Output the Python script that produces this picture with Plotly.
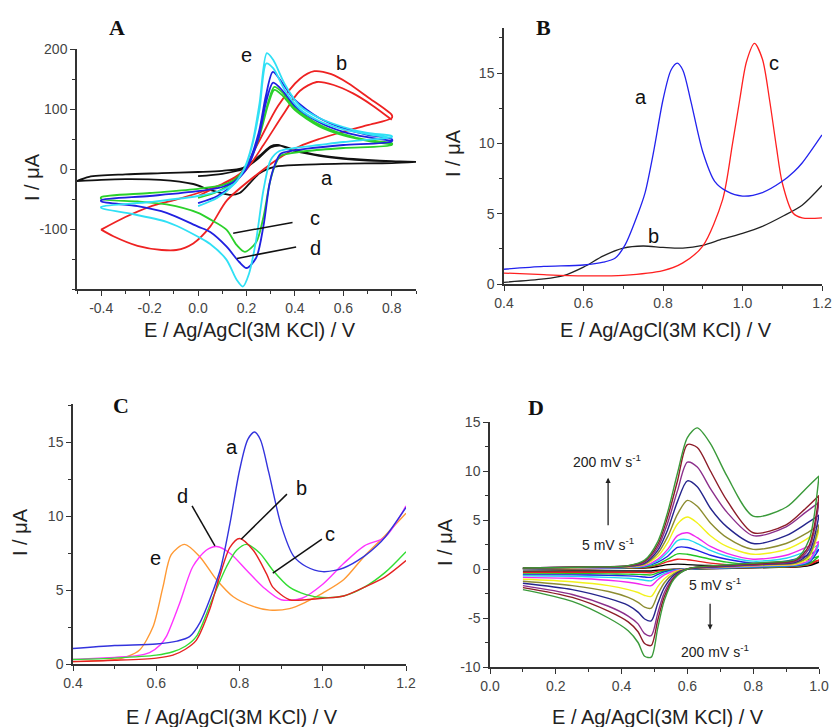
import plotly.graph_objects as go

# ---------------- Panel A: CVs (E / V, I / uA) ----------------
A_a_E = [0.0, 0.1, 0.186, 0.25, 0.3, 0.34, 0.4, 0.5, 0.6, 0.7, 0.8, 0.9,
         0.9, 0.8, 0.6, 0.42, 0.32, 0.254, 0.213, 0.172, 0.13, 0.05, -0.02, -0.156, -0.3, -0.4, -0.5,
         -0.5, -0.45, -0.3, -0.15, 0.0, 0.1, 0.186, 0.254, 0.3, 0.33, 0.4, 0.5, 0.6, 0.7, 0.8, 0.9]
A_a_I = [-12, -8, 0, 18, 36, 39, 32, 23, 18, 15, 13, 12,
         12, 10, 9, 7, 4, -7, -24, -40, -43, -35, -25, -18, -17, -18, -20,
         -20, -13, -9, -7, -5, -3, 2, 22, 38, 40, 30, 22, 17, 14, 13, 12]

A_b_E = [0.0, 0.1, 0.18, 0.25, 0.33, 0.42, 0.48, 0.55, 0.62, 0.7, 0.8,
         0.8, 0.7, 0.58, 0.5, 0.42, 0.35, 0.25, 0.12, 0.05, -0.02, -0.09, -0.15, -0.25, -0.35, -0.4,
         -0.4, -0.3, -0.2, -0.1, 0.0, 0.1, 0.19, 0.27, 0.35, 0.42, 0.49, 0.56, 0.64, 0.72, 0.8]
A_b_I = [-45, -25, -5, 45, 105, 150, 163, 158, 143, 120, 90,
         85, 73, 60, 50, 38, 22, -7, -52, -96, -124, -135, -135, -128, -112, -101,
         -101, -80, -63, -52, -40, -25, -5, 40, 90, 130, 145, 140, 126, 106, 82]

A_c_E = [0.0, 0.08, 0.15, 0.2, 0.25, 0.29, 0.315, 0.35, 0.4, 0.5, 0.6, 0.7, 0.8,
         0.8, 0.6, 0.45, 0.38, 0.34, 0.315, 0.295, 0.27, 0.24, 0.193, 0.16, 0.117, 0.05, 0.0, -0.13, -0.25, -0.4,
         -0.4, -0.2, 0.0, 0.1, 0.15, 0.2, 0.25, 0.29, 0.315, 0.35, 0.4, 0.5, 0.6, 0.7, 0.8]
A_c_I = [-48, -38, -20, 3, 52, 112, 137, 127, 102, 74, 58, 48, 43,
         40, 35, 30, 26, 22, 3, -25, -80, -122, -138, -127, -101, -84, -73, -59, -54, -50,
         -47, -40, -33, -27, -18, 4, 50, 108, 132, 122, 98, 71, 56, 47, 41]

A_d_E = [0.0, 0.08, 0.15, 0.2, 0.25, 0.28, 0.309, 0.35, 0.4, 0.5, 0.6, 0.7, 0.8,
         0.8, 0.6, 0.45, 0.38, 0.34, 0.315, 0.295, 0.27, 0.24, 0.2, 0.17, 0.117, 0.05, 0.0, -0.13, -0.25, -0.4,
         -0.4, -0.2, 0.0, 0.1, 0.15, 0.2, 0.25, 0.28, 0.31, 0.35, 0.4, 0.5, 0.6, 0.7, 0.8]
A_d_I = [-57, -45, -24, 2, 60, 122, 162, 142, 115, 85, 68, 57, 50,
         46, 40, 34, 30, 25, 5, -25, -95, -148, -165, -155, -129, -105, -96, -73, -62, -54,
         -52, -45, -37, -30, -21, 0, 52, 110, 144, 130, 105, 78, 62, 53, 47]

A_e_E = [0.0, 0.08, 0.15, 0.18, 0.2, 0.227, 0.254, 0.284, 0.31, 0.36, 0.42, 0.5, 0.6, 0.7, 0.8,
         0.8, 0.7, 0.6, 0.5, 0.4, 0.336, 0.3, 0.27, 0.24, 0.21, 0.185, 0.16, 0.117, 0.05, 0.0, -0.087, -0.13, -0.27, -0.4,
         -0.4, -0.2, 0.0, 0.1, 0.15, 0.18, 0.2, 0.227, 0.254, 0.282, 0.31, 0.36, 0.42, 0.5, 0.6, 0.7, 0.8]
A_e_I = [-62, -48, -25, -7, 10, 48, 110, 193, 182, 140, 105, 85, 70, 60, 55,
         53, 49, 45, 40, 35, 30, 15, -35, -118, -175, -196, -185, -151, -125, -113, -95, -88, -75, -65,
         -63, -55, -45, -35, -24, -8, 8, 45, 100, 176, 168, 130, 100, 80, 66, 58, 52]

A_xticks = [-0.4, -0.2, 0.0, 0.2, 0.4, 0.6, 0.8]
A_xlabels = ["-0.4", "-0.2", "0.0", "0.2", "0.4", "0.6", "0.8"]
A_yticks = [-100, 0, 100, 200]
A_ylabels = ["-100", "0", "100", "200"]

# ---------------- Panel B: DPV ----------------
B_a_E = [0.4, 0.5, 0.6, 0.65, 0.68, 0.705, 0.737, 0.755, 0.777, 0.8, 0.82, 0.836, 0.85, 0.87,
         0.9, 0.93, 0.96, 1.0, 1.05, 1.1, 1.13, 1.15, 1.2]
B_a_I = [1.05, 1.25, 1.35, 1.55, 1.85, 2.8, 5.0, 6.5, 9.5, 13.1, 15.2, 15.7, 15.2, 13.0,
         9.4, 7.3, 6.6, 6.25, 6.5, 7.3, 8.0, 8.6, 10.6]
B_b_E = [0.4, 0.5, 0.55, 0.6, 0.65, 0.7, 0.75, 0.8, 0.85, 0.9, 0.95, 1.0, 1.05, 1.1, 1.15, 1.2]
B_b_I = [0.12, 0.36, 0.6, 1.2, 2.0, 2.55, 2.7, 2.6, 2.55, 2.75, 3.2, 3.6, 4.1, 4.8, 5.6, 7.0]
B_c_E = [0.4, 0.5, 0.6, 0.7, 0.8, 0.85, 0.9, 0.95, 0.975, 0.993, 1.01, 1.03, 1.05, 1.068,
         1.085, 1.1, 1.127, 1.15, 1.2]
B_c_I = [0.78, 0.66, 0.58, 0.62, 0.95, 1.5, 2.7, 6.0, 10.0, 13.1, 15.8, 17.1, 16.0, 13.1,
         9.8, 7.2, 5.05, 4.7, 4.7]

# ---------------- Panel C: DPV ----------------
C_a_E = B_a_E
C_a_I = B_a_I
C_b_E = [0.4, 0.5, 0.6, 0.64, 0.67, 0.696, 0.728, 0.752, 0.777, 0.8, 0.833, 0.865, 0.88,
         0.92, 0.96, 1.0, 1.05, 1.1, 1.15, 1.2]
C_b_I = [0.16, 0.25, 0.4, 0.6, 1.0, 1.6, 3.65, 5.9, 7.9, 8.5, 7.7, 6.1, 5.2,
         4.35, 4.35, 4.45, 4.6, 5.2, 5.9, 7.0]
C_c_E = [0.4, 0.5, 0.6, 0.64, 0.67, 0.696, 0.737, 0.769, 0.793, 0.817, 0.849, 0.88, 0.92,
         0.96, 1.0, 1.05, 1.1, 1.15, 1.2]
C_c_I = [0.3, 0.4, 0.6, 0.83, 1.2, 1.85, 4.55, 6.6, 7.7, 8.1, 7.5, 6.35, 5.2,
         4.7, 4.5, 4.6, 5.2, 6.2, 7.6]
C_d_E = [0.4, 0.5, 0.55, 0.584, 0.61, 0.624, 0.656, 0.688, 0.72, 0.745, 0.777, 0.817, 0.857,
         0.9, 0.95, 1.0, 1.05, 1.1, 1.15, 1.2]
C_d_I = [0.3, 0.45, 0.55, 0.77, 1.3, 1.85, 4.1, 6.6, 7.7, 7.95, 7.5, 6.35, 5.2,
         4.35, 4.45, 5.4, 6.8, 8.0, 8.6, 10.7]
C_e_E = [0.4, 0.5, 0.53, 0.56, 0.592, 0.616, 0.636, 0.668, 0.705, 0.745, 0.785, 0.833, 0.873,
         0.92, 0.96, 1.0, 1.05, 1.1, 1.15, 1.2]
C_e_I = [0.16, 0.3, 0.5, 0.95, 2.5, 5.2, 7.4, 8.1, 7.25, 5.7, 4.55, 3.9, 3.65,
         3.75, 4.2, 4.8, 5.7, 7.3, 8.7, 10.2]

# ---------------- Panel D: CVs at scan rates 5 ... 200 mV/s ----------------
D_fwd_E = [0.1, 0.3, 0.42, 0.47, 0.51, 0.54, 0.57, 0.6, 0.63, 0.67, 0.72, 0.8, 0.9, 0.96, 1.0]
D_rev_E = [1.0, 0.97, 0.93, 0.85, 0.7, 0.6, 0.56, 0.53, 0.51, 0.49, 0.47, 0.45, 0.42, 0.36, 0.25, 0.1]

D01_fwd = [0.0, 0.03, 0.06, 0.1, 0.25, 0.45, 0.5, 0.45, 0.4, 0.35, 0.3, 0.25, 0.3, 0.45, 0.7]
D01_rev = [0.7, 0.35, 0.2, 0.15, 0.05, 0.0, -0.03, -0.08, -0.13, -0.2, -0.2, -0.2, -0.2, -0.2, -0.2, -0.22]
D02_fwd = [0.0, 0.05, 0.1, 0.15, 0.4, 0.75, 1.0, 0.95, 0.8, 0.6, 0.45, 0.35, 0.45, 0.6, 0.9]
D02_rev = [0.9, 0.45, 0.25, 0.18, 0.06, 0.0, -0.05, -0.12, -0.22, -0.38, -0.36, -0.34, -0.33, -0.33, -0.33, -0.35]
D03_fwd = [0.02, 0.08, 0.12, 0.2, 0.5, 1.0, 1.55, 1.5, 1.3, 1.0, 0.7, 0.45, 0.6, 0.9, 1.3]
D03_rev = [1.3, 0.55, 0.3, 0.2, 0.08, 0.0, -0.07, -0.2, -0.38, -0.6, -0.58, -0.55, -0.52, -0.5, -0.48, -0.5]
D04_fwd = [0.03, 0.1, 0.15, 0.25, 0.7, 1.3, 2.2, 2.2, 1.9, 1.4, 1.0, 0.6, 0.8, 1.3, 2.0]
D04_rev = [2.0, 0.7, 0.35, 0.25, 0.1, 0.0, -0.1, -0.3, -0.55, -0.85, -0.82, -0.75, -0.7, -0.65, -0.6, -0.6]
D05_fwd = [0.05, 0.1, 0.18, 0.3, 0.85, 1.7, 2.9, 3.0, 2.6, 1.9, 1.3, 0.8, 1.1, 1.8, 2.5]
D05_rev = [2.5, 0.8, 0.4, 0.3, 0.12, 0.0, -0.15, -0.45, -0.8, -1.2, -1.15, -1.05, -0.95, -0.85, -0.75, -0.7]
D06_fwd = [0.05, 0.12, 0.2, 0.35, 1.0, 2.0, 3.4, 3.7, 3.2, 2.3, 1.6, 1.0, 1.4, 2.2, 2.8]
D06_rev = [2.8, 0.9, 0.45, 0.35, 0.15, 0.0, -0.2, -0.6, -1.1, -1.7, -1.65, -1.5, -1.35, -1.15, -0.95, -0.85]
D07_fwd = [0.05, 0.15, 0.22, 0.45, 1.3, 2.7, 4.6, 5.3, 4.7, 3.4, 2.3, 1.5, 2.0, 3.0, 4.0]
D07_rev = [4.0, 1.2, 0.5, 0.4, 0.2, 0.0, -0.3, -1.0, -1.8, -2.8, -2.7, -2.4, -2.1, -1.7, -1.3, -1.05]
D08_fwd = [0.1, 0.18, 0.25, 0.5, 1.6, 3.3, 5.6, 7.0, 6.4, 4.7, 3.2, 2.0, 2.6, 3.6, 4.5]
D08_rev = [4.5, 1.4, 0.6, 0.45, 0.2, 0.0, -0.45, -1.4, -2.6, -4.0, -3.9, -3.4, -2.9, -2.3, -1.7, -1.25]
D09_fwd = [0.1, 0.2, 0.28, 0.6, 1.9, 4.0, 6.9, 9.0, 8.4, 6.2, 4.3, 2.6, 3.4, 4.6, 5.5]
D09_rev = [5.5, 1.7, 0.7, 0.5, 0.25, 0.0, -0.6, -1.9, -3.5, -5.3, -5.1, -4.4, -3.7, -3.0, -2.1, -1.45]
D10_fwd = [0.1, 0.2, 0.3, 0.7, 2.2, 4.7, 8.0, 10.9, 10.4, 8.2, 5.8, 3.4, 4.3, 5.8, 6.8]
D10_rev = [6.8, 2.1, 0.8, 0.55, 0.3, 0.0, -0.8, -2.4, -4.5, -6.8, -6.6, -5.6, -4.8, -3.8, -2.6, -1.7]
D11_fwd = [0.1, 0.2, 0.33, 0.8, 2.5, 5.3, 9.0, 12.7, 12.4, 10.0, 7.0, 3.7, 4.5, 6.2, 7.5]
D11_rev = [7.5, 2.4, 0.9, 0.6, 0.35, 0.0, -0.9, -2.8, -5.2, -7.8, -7.6, -6.4, -5.4, -4.3, -2.9, -1.9]
D12_fwd = [0.1, 0.2, 0.35, 0.9, 2.8, 5.8, 9.8, 13.4, 14.4, 12.8, 9.5, 5.4, 6.3, 8.2, 9.5]
D12_rev = [9.5, 3.0, 1.0, 0.7, 0.4, 0.0, -1.0, -3.2, -6.0, -9.0, -8.9, -7.5, -6.3, -5.0, -3.3, -2.1]

D_yticks = [-10, -5, 0, 5, 10, 15]
D_ylabels = ["-10", "-5", "0", "5", "10", "15"]

D_colors = ["#000000", "#E82020", "#22C522", "#2020E6", "#22D8F0", "#F028F0",
            "#F2F21C", "#8C8C30", "#25258C", "#8B2F8B", "#8C1C28", "#3A9A3A"]

# ---------------- figure ----------------
fig = go.Figure()

def add(x, y, color, xa, ya, w=1.6, name=None):
    fig.add_trace(go.Scatter(x=x, y=y, mode="lines", xaxis=xa, yaxis=ya, name=name,
                             line=dict(color=color, width=w, shape="spline", smoothing=0.8),
                             showlegend=False, hoverinfo="skip"))

# A
add(A_a_E, A_a_I, "#111111", "x", "y", 1.8, "a")
add(A_b_E, A_b_I, "#EE2222", "x", "y", 1.8, "b")
add(A_c_E, A_c_I, "#2BD12B", "x", "y", 1.8, "c")
add(A_d_E, A_d_I, "#2020E0", "x", "y", 1.8, "d")
add(A_e_E, A_e_I, "#30E0F5", "x", "y", 1.8, "e")
# B
add(B_b_E, B_b_I, "#222222", "x2", "y2", 1.3, "b")
add(B_c_E, B_c_I, "#FF2020", "x2", "y2", 1.3, "c")
add(B_a_E, B_a_I, "#2222EE", "x2", "y2", 1.3, "a")
# C
add(C_e_E, C_e_I, "#FF9933", "x3", "y3", 1.4, "e")
add(C_d_E, C_d_I, "#FF33FF", "x3", "y3", 1.4, "d")
add(C_c_E, C_c_I, "#33DD33", "x3", "y3", 1.4, "c")
add(C_b_E, C_b_I, "#E52222", "x3", "y3", 1.4, "b")
add(C_a_E, C_a_I, "#3333DD", "x3", "y3", 1.4, "a")
# D
D_fwd = [D01_fwd, D02_fwd, D03_fwd, D04_fwd, D05_fwd, D06_fwd, D07_fwd, D08_fwd, D09_fwd, D10_fwd, D11_fwd, D12_fwd]
D_rev = [D01_rev, D02_rev, D03_rev, D04_rev, D05_rev, D06_rev, D07_rev, D08_rev, D09_rev, D10_rev, D11_rev, D12_rev]
for f, r, c in zip(D_fwd, D_rev, D_colors):
    add(D_fwd_E + D_rev_E, f + r, c, "x4", "y4", 1.4)

W, H = 832, 727
def px(a, b):
    return [a / W, b / W]
def py(top, bottom):
    return [1 - bottom / H, 1 - top / H]

tickfont = dict(family="Arial", size=14, color="#444444")
def xax(dom, rng, dtick, minor):
    return dict(domain=dom, range=rng, dtick=dtick, tick0=0, showgrid=False, zeroline=False,
                showline=True, linecolor="#333333", linewidth=1.5, ticks="outside", ticklen=5,
                tickcolor="#333333", tickwidth=1.3, tickfont=tickfont, automargin=False,
                minor=dict(dtick=minor, ticks="outside", ticklen=3, tickcolor="#333333", tickwidth=1))
def yax(dom, rng, dtick, minor, anchor):
    d = xax(dom, rng, dtick, minor)
    d["anchor"] = anchor
    return d

xa = xax(px(77, 416), [-0.5, 0.9], 0.2, 0.1)
xa.update(tickvals=A_xticks, ticktext=A_xlabels, anchor="y")
xb = xax(px(504, 822), [0.4, 1.2], 0.2, 0.1); xb.update(anchor="y2", tickformat=".1f")
xc = xax(px(73, 406), [0.4, 1.2], 0.2, 0.1); xc.update(anchor="y3", tickformat=".1f")
xd = xax(px(490, 819), [0.0, 1.0], 0.2, 0.1); xd.update(anchor="y4", tickformat=".1f")

ya = yax(py(49, 289), [-200, 200], 100, 50, "x"); ya.update(tickvals=A_yticks, ticktext=A_ylabels)
yb = yax(py(28, 284), [0, 18.2], 5, 2.5, "x2")
yc = yax(py(404, 664), [0, 17.6], 5, 2.5, "x3")
yd = yax(py(422, 667), [-10, 15], 5, 2.5, "x4"); yd.update(tickvals=D_yticks, ticktext=D_ylabels)

fig.update_layout(
    width=W, height=H, margin=dict(l=0, r=0, t=0, b=0),
    paper_bgcolor="white", plot_bgcolor="white", showlegend=False,
    xaxis=xa, yaxis=ya, xaxis2=xb, yaxis2=yb, xaxis3=xc, yaxis3=yc, xaxis4=xd, yaxis4=yd,
)

lab = dict(family="Arial", size=20, color="#111111")
def note(text, x, y, xr, yr, font=lab):
    fig.add_annotation(text=text, x=x, y=y, xref=xr, yref=yr, showarrow=False, font=font,
                       xanchor="center", yanchor="middle")

# curve labels
note("e", 0.20, 190, "x", "y"); note("b", 0.594, 177, "x", "y"); note("a", 0.533, -15, "x", "y")
note("c", 0.484, -82, "x", "y"); note("d", 0.486, -132, "x", "y")
note("a", 0.745, 13.3, "x2", "y2"); note("b", 0.775, 3.4, "x2", "y2"); note("c", 1.079, 15.7, "x2", "y2")
note("a", 0.782, 14.7, "x3", "y3"); note("b", 0.948, 11.9, "x3", "y3"); note("c", 1.017, 8.8, "x3", "y3")
note("d", 0.662, 11.4, "x3", "y3"); note("e", 0.597, 7.2, "x3", "y3")

# leader lines
def leader(x0, y0, x1, y1, xr, yr):
    fig.add_shape(type="line", x0=x0, y0=y0, x1=x1, y1=y1, xref=xr, yref=yr,
                  line=dict(color="#111111", width=1.5))
leader(0.39, -89, 0.145, -107, "x", "y")
leader(0.405, -130, 0.161, -149, "x", "y")
leader(0.686, 10.7, 0.741, 8.0, "x3", "y3")
leader(0.914, 11.5, 0.804, 8.45, "x3", "y3")
leader(0.998, 8.45, 0.880, 6.15, "x3", "y3")

# scan-rate notes in D
small = dict(family="Arial", size=14, color="#222222")
note("200 mV s<sup>-1</sup>", 0.356, 11.05, "x4", "y4", small)
note("5 mV s<sup>-1</sup>", 0.359, 2.6, "x4", "y4", small)
note("5 mV s<sup>-1</sup>", 0.684, -1.5, "x4", "y4", small)
note("200 mV s<sup>-1</sup>", 0.684, -8.4, "x4", "y4", small)
for (x0, y0, y1) in [(0.359, 4.3, 9.3), (0.669, -3.4, -6.2)]:
    fig.add_annotation(x=x0, y=y1, ax=x0, ay=y0, xref="x4", yref="y4", axref="x4", ayref="y4",
                       showarrow=True, arrowhead=2, arrowsize=0.8, arrowwidth=1.3, arrowcolor="#222222", text="")

# panel letters
big = dict(family="Liberation Serif", size=22, color="#111111")
for t, x, y in [("<b>A</b>", 117, 28), ("<b>B</b>", 543, 28), ("<b>C</b>", 121, 405), ("<b>D</b>", 536, 407)]:
    fig.add_annotation(text=t, x=x / W, y=1 - y / H, xref="paper", yref="paper", showarrow=False, font=big,
                       xanchor="center", yanchor="middle")

# axis titles
tfont = dict(family="Arial", size=20, color="#222222")
for x, y in [(250, 330), (666, 330), (232, 717), (658, 717)]:
    fig.add_annotation(text="E / Ag/AgCl(3M KCl) / V", x=x / W, y=1 - y / H, xref="paper", yref="paper",
                       showarrow=False, font=tfont, xanchor="center", yanchor="middle")
for x, y in [(32, 177), (453, 153), (20, 532), (445, 542)]:
    fig.add_annotation(text="I / μA", x=x / W, y=1 - y / H, xref="paper", yref="paper",
                       showarrow=False, font=tfont, textangle=-90, xanchor="center", yanchor="middle")

fig.write_html("out.html", config={"displayModeBar": False},
               post_script="document.body.style.margin='0';document.body.style.overflow='hidden';")
